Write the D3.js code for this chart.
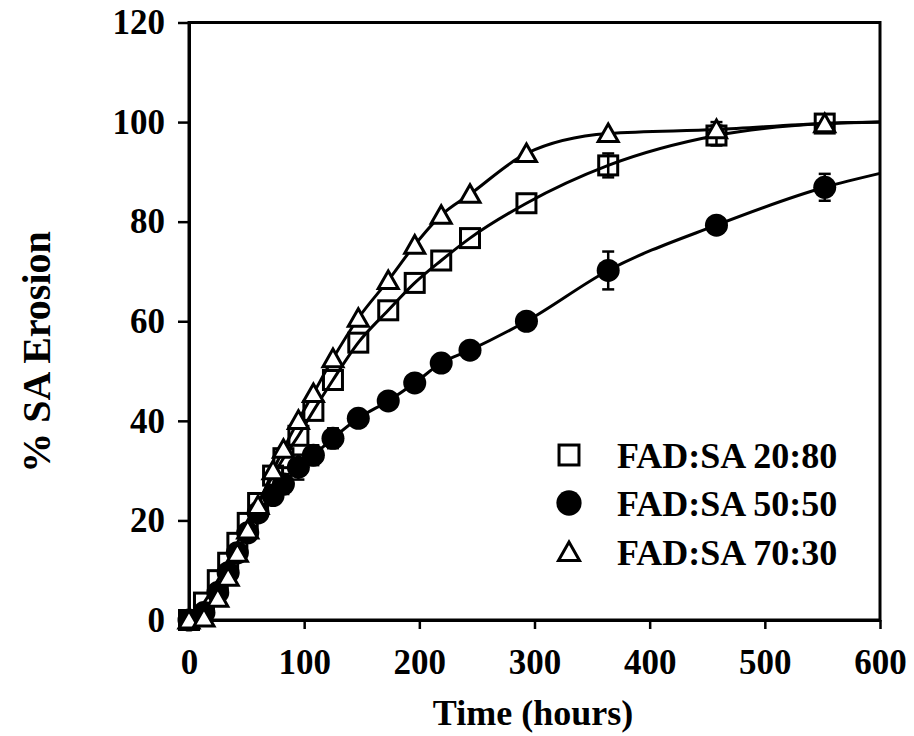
<!DOCTYPE html>
<html>
<head>
<meta charset="utf-8">
<script src="https://cdn.jsdelivr.net/npm/d3@7"></script>
<style>
  html, body { margin: 0; padding: 0; background: #fff; }
  svg { display: block; }
  text { font-family: "Liberation Serif", "Times New Roman", serif; font-weight: bold; fill: #000; }
</style>
</head>
<body>
<svg id="chart" width="914" height="736"></svg>
<script>
// Sampling times (hours)
const times = [0, 13, 25, 34, 42, 51, 60, 73, 82, 95, 108, 125, 147, 173, 196, 219, 244, 293, 364, 458, 552];

// % SA erosion for each polymer composition
const fad2080 = [0, 3.5, 8, 11.5, 15.5, 19.5, 23.5, 29, 32.5, 37, 42, 48.2, 55.7, 62.2, 67.7, 72.2, 76.7, 83.7, 91.3, 97.3, 99.7];
const fad5050 = [0, 1.5, 5.5, 9.5, 13.5, 17.5, 21.5, 25, 27.3, 30.7, 33.1, 36.5, 40.5, 44, 47.6, 51.6, 54.2, 60, 70.2, 79.3, 86.9];
const fad7030 = [0, 0.4, 4.4, 8.6, 13.4, 18.1, 23, 30, 34.3, 40.1, 45.5, 52.5, 60.6, 68.2, 75.3, 81.3, 85.5, 93.7, 97.7, 98.5, 99.7];

// Standard deviations
const err2080 = [0, 0, 0, 0, 0, 0, 0, 0, 0, 0, 0, 0, 0, 0, 0, 0, 0, 0, 2.4, 2.0, 0];
const err5050 = [0, 0, 0, 0, 0, 0, 0, 0, 2.0, 2.5, 2.0, 2.0, 1.0, 1.5, 1.0, 0, 0, 0, 3.8, 0, 2.7];
const err7030 = [0, 0, 0, 0, 0, 0, 0, 0, 0, 0, 0, 0, 0, 0, 0, 0, 0, 0, 0, 1.5, 0];

// Value of each fitted curve at the end of the time axis
const curveEnd = [100, 89.7, 100];

const seriesNames = ["FAD:SA 20:80", "FAD:SA 50:50", "FAD:SA 70:30"];
const xTicks = [0, 100, 200, 300, 400, 500, 600];
const yTicks = [0, 20, 40, 60, 80, 100, 120];

const series = [
  { name: seriesNames[0], values: fad2080, err: err2080, end: curveEnd[0], shape: "square" },
  { name: seriesNames[1], values: fad5050, err: err5050, end: curveEnd[1], shape: "circle" },
  { name: seriesNames[2], values: fad7030, err: err7030, end: curveEnd[2], shape: "triangle" }
];

const svg = d3.select("#chart");
const x = d3.scaleLinear().domain([0, 600]).range([189, 880]);
const y = d3.scaleLinear().domain([0, 120]).range([620, 22.5]);

// Plot frame
svg.append("rect")
  .attr("x", x(0)).attr("y", y(120))
  .attr("width", x(600) - x(0)).attr("height", y(0) - y(120))
  .attr("fill", "none").attr("stroke", "#000").attr("stroke-width", 3);

// Axes
const gx = svg.append("g").attr("transform", `translate(0,${y(0)})`)
  .call(d3.axisBottom(x).tickValues(xTicks).tickSize(9).tickPadding(20).tickSizeOuter(0));
const gy = svg.append("g").attr("transform", `translate(${x(0)},0)`)
  .call(d3.axisLeft(y).tickValues(yTicks).tickSize(11).tickPadding(13).tickSizeOuter(0));
[gx, gy].forEach(g => {
  g.select(".domain").attr("stroke", "#000").attr("stroke-width", 3);
  g.selectAll(".tick line").attr("stroke", "#000").attr("stroke-width", 2.5);
  g.selectAll(".tick text").style("font-size", "35px").style("font-family", "'Liberation Serif', serif").style("font-weight", "bold");
});

// Axis titles
svg.append("text")
  .attr("x", 533).attr("y", 725)
  .attr("text-anchor", "middle")
  .style("font-size", "36px")
  .text("Time (hours)");
svg.append("text")
  .attr("transform", "translate(50,352) rotate(-90)")
  .attr("text-anchor", "middle")
  .style("font-size", "40px")
  .text("% SA Erosion");

// Fitted curves
const line = d3.line().x(d => x(d[0])).y(d => y(d[1])).curve(d3.curveMonotoneX);
series.forEach(s => {
  const pts = times.map((t, i) => [t, s.values[i]]).concat([[600, s.end]]);
  svg.append("path")
    .attr("d", line(pts))
    .attr("fill", "none").attr("stroke", "#000").attr("stroke-width", 3);
});

// Error bars
series.forEach(s => {
  const g = svg.append("g");
  times.forEach((t, i) => {
    const e = s.err[i];
    if (!e) return;
    const cx = x(t), top = y(s.values[i] + e), bot = y(s.values[i] - e);
    g.append("line").attr("x1", cx).attr("x2", cx).attr("y1", top).attr("y2", bot)
      .attr("stroke", "#000").attr("stroke-width", 2.5);
    [top, bot].forEach(yy => g.append("line")
      .attr("x1", cx - 6).attr("x2", cx + 6).attr("y1", yy).attr("y2", yy)
      .attr("stroke", "#000").attr("stroke-width", 2.5));
  });
});

// Marker drawing
function drawMarker(g, shape, cx, cy, scale) {
  const k = scale || 1;
  if (shape === "square") {
    const h = 9.5 * k;
    g.append("rect").attr("x", cx - h).attr("y", cy - h).attr("width", 2 * h).attr("height", 2 * h)
      .attr("fill", "none").attr("stroke", "#000").attr("stroke-width", 3);
  } else if (shape === "circle") {
    g.append("circle").attr("cx", cx).attr("cy", cy).attr("r", 11.5 * k).attr("fill", "#000");
  } else {
    const w = 10 * k, hh = 9.5 * k;
    g.append("path")
      .attr("d", `M${cx},${cy - hh}L${cx + w},${cy + hh * 0.85}L${cx - w},${cy + hh * 0.85}Z`)
      .attr("fill", "#fff").attr("stroke", "#000").attr("stroke-width", 3).attr("stroke-linejoin", "miter");
  }
}

const markers = svg.append("g");
series.forEach(s => {
  times.forEach((t, i) => drawMarker(markers, s.shape, x(t), y(s.values[i])));
});

// Legend
const legend = svg.append("g");
const legendRows = [455, 503, 552];
series.forEach((s, i) => {
  drawMarker(legend, s.shape, 569, legendRows[i], s.shape === "circle" ? 1.1 : 1.05);
  legend.append("text")
    .attr("x", 617).attr("y", legendRows[i] + 13)
    .style("font-size", "36px")
    .text(s.name);
});
</script>
</body>
</html>
